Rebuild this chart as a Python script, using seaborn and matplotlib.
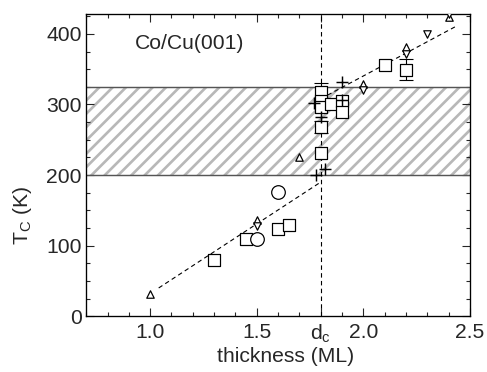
#!/usr/bin/env python3
"""Curie temperature of Co/Cu(001) films versus thickness."""

import matplotlib

matplotlib.use("Agg")
import matplotlib.pyplot as plt
import seaborn as sns
from matplotlib.ticker import MultipleLocator

# data (thickness in ML, T_C in K)
square_x = [1.3, 1.45, 1.6, 1.65, 1.8, 1.8, 1.8, 1.8, 1.8, 1.85, 1.9, 1.9, 2.1, 2.2]
square_t = [80, 110, 123, 129, 318, 305, 297, 268, 231, 300, 305, 289, 356, 349]
square_err_x = [1.8, 1.8, 2.2]
square_err_t = [318, 268, 349]
square_err = [12, 8, 15]
circle_x = [1.5, 1.6]
circle_t = [109, 176]
tri_up_x = [1.0, 1.5, 1.7, 2.0, 2.2, 2.4]
tri_up_t = [31, 136, 226, 329, 381, 424]
tri_down_x = [1.5, 2.0, 2.2, 2.3, 2.4]
tri_down_t = [128, 320, 372, 400, 428]
plus_x = [1.78, 1.82, 1.77, 1.8, 1.9, 1.9]
plus_t = [200, 209, 302, 282, 332, 306]
fit_low_x = [1.04, 1.8]
fit_low_t = [40, 190]
fit_high_x = [1.8, 2.43]
fit_high_t = [308, 410]
band_t = [200, 325]
d_c = 1.8

sns.set_style("ticks")
plt.rcParams["font.family"] = ["Liberation Sans", "DejaVu Sans"]
plt.rcParams["mathtext.fontset"] = "custom"
plt.rcParams["mathtext.rm"] = "Liberation Sans"
plt.rcParams["mathtext.it"] = "Liberation Sans"
plt.rcParams["hatch.linewidth"] = 2.4
plt.rcParams["hatch.color"] = "#b8b8b8"

FS = 19

fig, ax = plt.subplots(figsize=(6.0875, 4.65), dpi=80)
fig.subplots_adjust(left=0.177, right=0.965, bottom=0.15, top=0.962)

# hatched band
ax.axhspan(band_t[0], band_t[1], facecolor="white", edgecolor="#b8b8b8",
           hatch="//", linewidth=0, zorder=0)
for t in band_t:
    ax.axhline(t, color="#555555", lw=1.3, zorder=1)
ax.axvline(d_c, color="black", lw=1, ls=(0, (4, 3)), zorder=1)

sns.lineplot(x=fit_low_x, y=fit_low_t, ax=ax, color="black", lw=1,
             linestyle=(0, (4, 3)), zorder=2)
sns.lineplot(x=fit_high_x, y=fit_high_t, ax=ax, color="black", lw=1,
             linestyle=(0, (4, 3)), zorder=2)

ax.errorbar(square_err_x, square_err_t, yerr=square_err, fmt="none",
            ecolor="black", elinewidth=1, capsize=6, zorder=3)

mk = dict(ax=ax, facecolor="white", edgecolor="black", linewidth=1.1, zorder=4)
sns.scatterplot(x=square_x, y=square_t, marker="s", s=105, **mk)
sns.scatterplot(x=circle_x, y=circle_t, marker="o", s=150, **mk)
sns.scatterplot(x=tri_up_x, y=tri_up_t, marker="^", s=45, **mk)
sns.scatterplot(x=tri_down_x, y=tri_down_t, marker="v", s=45, **mk)
sns.scatterplot(x=plus_x, y=plus_t, marker="+", s=130, color="black",
                linewidth=1.3, ax=ax, zorder=5)

ax.set_xlim(0.7, 2.5)
ax.set_ylim(0, 428)
ax.set_xticks([1.0, 1.5, d_c, 2.0, 2.5])
ax.set_xticklabels(["1.0", "1.5", "d$_{\\mathregular{c}}$", "2.0", "2.5"])
ax.set_yticks([0, 100, 200, 300, 400])
ax.xaxis.set_minor_locator(MultipleLocator(0.1))
ax.yaxis.set_minor_locator(MultipleLocator(25))
ax.tick_params(which="both", direction="in", top=True, right=True,
               labelsize=FS, width=1)
ax.tick_params(axis="x", pad=6)
ax.tick_params(axis="y", pad=4)
ax.tick_params(which="major", length=7)
ax.tick_params(which="minor", length=4)
for s in ax.spines.values():
    s.set_linewidth(1.2)
    s.set_color("black")

ax.set_xlabel("thickness (ML)", fontsize=FS, va="center")
ax.xaxis.set_label_coords(0.52, -0.135)
ax.set_ylabel("T$_{\\mathregular{C}}$ (K)", fontsize=FS, va="center")
ax.yaxis.set_label_coords(-0.165, 0.335)
ax.text(0.93, 387, "Co/Cu(001)", fontsize=FS, va="center", ha="left")

fig.savefig("out.png", dpi=80)
